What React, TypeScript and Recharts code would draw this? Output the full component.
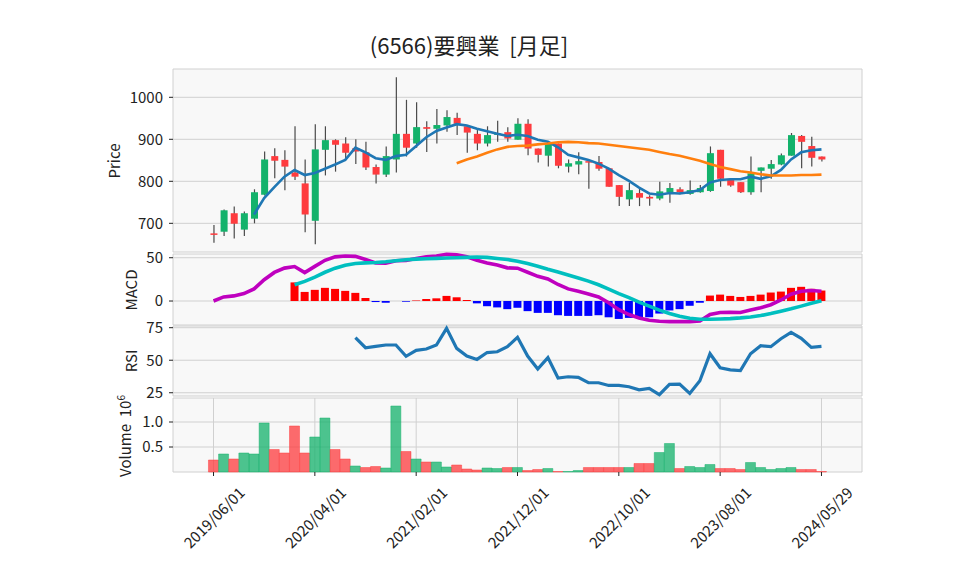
import { ComposedChart, Bar, Line, XAxis, YAxis, CartesianGrid, Cell } from "recharts";

const FONT = '"Noto Sans CJK JP", "Noto Sans", sans-serif';

// x positions are month indexes; ticks every 10 months
const tickIdx = [0, 10, 20, 30, 40, 50, 60];
const tickLabels = ["2019/06/01", "2020/04/01", "2021/02/01", "2021/12/01", "2022/10/01", "2023/08/01", "2024/05/29"];

const open = [676, 680, 724, 685, 711, 768, 860, 851, 821, 795, 706, 875, 898, 890, 879, 869, 834, 816, 852, 913,
  890, 929, 925, 933, 951, 931, 913, 890, 912, 917, 899, 937, 878, 861, 890, 835, 840, 848, 846, 831,
  791, 757, 772, 763, 759, 774, 781, 770, 774, 777, 875, 803, 798, 774, 825, 830, 840, 861, 908, 884, 859];
const high = [696, 733, 740, 728, 781, 871, 879, 874, 931, 852, 936, 931, 900, 905, 900, 894, 840, 883, 1048, 994,
  988, 943, 972, 969, 963, 931, 922, 931, 944, 929, 950, 948, 878, 896, 890, 852, 869, 848, 860, 831,
  791, 796, 782, 767, 799, 796, 786, 802, 791, 883, 875, 803, 798, 859, 833, 851, 866, 915, 910, 906, 859];
const low = [654, 670, 664, 670, 700, 766, 807, 779, 803, 679, 650, 814, 823, 854, 841, 827, 795, 810, 821, 859,
  880, 870, 890, 918, 910, 868, 874, 883, 894, 894, 899, 862, 845, 835, 831, 821, 817, 782, 825, 787,
  741, 741, 741, 742, 755, 749, 769, 768, 773, 775, 787, 787, 772, 768, 774, 806, 838, 861, 831, 835, 847];
const close = [674, 731, 699, 724, 774, 852, 849, 835, 811, 721, 876, 898, 887, 868, 871, 833, 816, 860, 913, 880,
  929, 925, 934, 953, 937, 916, 890, 910, 914, 902, 937, 878, 863, 889, 837, 843, 848, 845, 830, 787,
  763, 779, 761, 759, 776, 784, 774, 779, 784, 867, 806, 790, 774, 819, 833, 841, 862, 910, 894, 856, 852];

const ma5 = [null, null, null, null, 721, 760, 786, 811, 827, 815, 820, 830, 840, 851, 880, 869, 855, 851, 860, 863,
  884, 905, 920, 928, 936, 933, 925, 919, 913, 908, 911, 908, 899, 894, 881, 863, 857, 851, 842, 830,
  815, 801, 785, 771, 768, 772, 771, 774, 779, 797, 803, 805, 805, 811, 806, 812, 827, 852, 869, 874, 876];
const ma25 = [null, null, null, null, null, null, null, null, null, null, null, null, null, null, null, null, null, null, null, null,
  null, null, null, null, 843, 852, 859, 868, 876, 882, 884, 885, 888, 890, 893, 894, 893, 891, 890, 887,
  884, 881, 878, 875, 870, 865, 861, 855, 849, 841, 834, 829, 824, 821, 817, 814, 814, 814, 815, 815, 816];

const macd = [0, 4.7, 5.9, 8.6, 14, 24.6, 33, 38, 39.8, 32.8, 40, 47, 51, 52, 51.6, 48, 44, 43.8, 46.5, 46.9,
  49, 51, 52, 53.9, 53.5, 51, 47, 44, 41.5, 38.3, 37.9, 33.2, 28.5, 25.4, 19.1, 14, 11.3, 8.2, 4.7, -2,
  -10, -15.6, -19.5, -22.3, -23.4, -23.8, -23.8, -23.8, -23, -15.6, -13.3, -12.9, -13.3, -10.5, -7.8, -4.3, 1.2, 7.8, 11.3, 12.1, 11.3];
const signal = [null, null, null, null, null, null, null, null, 18.8, 22.7, 27.7, 33.2, 37.9, 41.4, 43.4, 44.1, 44.5, 45.3, 46.5, 47.7,
  48.4, 48.8, 49.2, 49.6, 50, 50.4, 50.8, 50.4, 49.2, 48, 46, 43.4, 40.2, 36.7, 33.6, 30, 26.6, 23, 18.8, 13.7,
  8.6, 3.9, -1.2, -5.9, -10.5, -14.5, -17.6, -19.9, -21.1, -21.1, -20.7, -20.3, -19.5, -18.4, -16.8, -14.5, -11.7, -9, -5.9, -2.7, 0.4];
const hist = [null, null, null, null, null, null, null, null, 21.5, 10.5, 12.9, 15.2, 14, 11.7, 9.4, 3.5, -1.2, -2, 0, -0.8,
  0.6, 2.3, 3.1, 5.9, 4.3, 1.2, -2.7, -6, -7.4, -9.4, -7.8, -11.7, -13.7, -13.7, -16.4, -17.2, -17.2, -17.2, -16.4, -18.8,
  -20.7, -19.5, -18.8, -18.8, -14.5, -10.9, -9.4, -5.5, -2, 6.3, 7.4, 5.9, 4.7, 5.9, 7.4, 9.8, 10.9, 15.2, 16.4, 14.1, 12.1];

const rsi = [null, null, null, null, null, null, null, null, null, null, null, null, null, null, 67.3, 59.6, 60.6, 61.7, 61.7, 53,
  57.6, 58.6, 61.7, 74.5, 59.1, 53.2, 50.6, 55.9, 56.5, 60.4, 67.6, 53.2, 43.2, 52, 36.3, 37.3, 36.8, 32.7, 32.7, 30.6,
  30.6, 29.6, 27.3, 28.3, 23.5, 31.4, 31.7, 24.5, 34.2, 55, 44.2, 42.6, 42.1, 55, 61.2, 60.4, 66.5, 71.4, 66.8, 59.9, 60.6];

// volume in millions, colour by change of close (G up / R down)
const volume = [0.24, 0.36, 0.26, 0.38, 0.36, 0.98, 0.45, 0.38, 0.92, 0.38, 0.7, 1.08, 0.45, 0.26, 0.12, 0.09, 0.11, 0.08, 1.32, 0.41,
  0.26, 0.2, 0.2, 0.1, 0.14, 0.06, 0.04, 0.08, 0.07, 0.09, 0.09, 0.03, 0.05, 0.07, 0.01, 0.01, 0.03, 0.09, 0.09, 0.09,
  0.09, 0.09, 0.17, 0.17, 0.39, 0.57, 0.07, 0.11, 0.09, 0.15, 0.07, 0.07, 0.05, 0.19, 0.09, 0.05, 0.07, 0.09, 0.05, 0.05, 0.01];
const volDir = "RGRGGGRRRRGGRRGRRGGRGRGGRRRGGRGRRGRGGRRRRGRRGGRGGGRRRGGGGGRRR";

const GREEN = "#13b26b";
const RED = "#fe3b3e";
const GRID = "#d0d0d0";
const BG = "#f8f8f8";
const TXT = "#222";
const PAD = 12; // room above/below each panel so edge tick labels are not clipped

const data = open.map((o, i) => ({
  x: i,
  range: [low[i], high[i]],
  open: o,
  high: high[i],
  low: low[i],
  close: close[i],
  ma5: ma5[i],
  ma25: ma25[i],
  macd: macd[i],
  signal: signal[i],
  hist: hist[i],
  rsi: rsi[i],
  volume: volume[i],
}));

const Candle = (props: any) => {
  const { x, y, width, height, payload } = props;
  const top = Math.min(y, y + height);
  const h = Math.abs(height);
  const { open: o, close: c, high: hi, low: lo } = payload;
  const py = (v: number) => top + ((hi - v) / (hi - lo || 1)) * h;
  const cx = x + width / 2;
  const bTop = py(Math.max(o, c));
  const bBot = py(Math.min(o, c));
  return (
    <g>
      <line x1={cx} x2={cx} y1={top} y2={top + h} stroke="#4a4a4a" strokeWidth={1.2} />
      <rect x={x} y={bTop} width={width} height={Math.max(bBot - bTop, 1.5)} fill={c >= o ? GREEN : RED} />
    </g>
  );
};

const XTick = (props: any) => {
  const { x, y, payload } = props;
  const label = tickLabels[tickIdx.indexOf(payload.value)];
  return (
    <text transform={`translate(${x},${y + 39}) rotate(-45)`} textAnchor="middle" dominantBaseline="central"
      fontSize={15} fill={TXT} fontFamily={FONT}>
      {label}
    </text>
  );
};

const margin = { top: PAD, right: 96, bottom: PAD, left: 113 };
const yTick = { fontSize: 15, fill: TXT, fontFamily: FONT };

const hiddenX = (
  <XAxis type="number" dataKey="x" domain={[-4, 64]} ticks={tickIdx} interval={0}
    tick={false} tickLine={false} axisLine={false} height={0} />
);

const panel = (top: number) => ({ position: "absolute" as const, left: 0, top: top - PAD });

export default function App() {
  return (
    <div style={{ position: "absolute", left: 0, top: 0, width: 958, height: 575, background: "#fff", fontFamily: FONT }}>
      <div style={panel(69)}>
        <ComposedChart width={958} height={183 + 2 * PAD} data={data} margin={margin}>
          <CartesianGrid stroke={GRID} fill={BG} />
          {hiddenX}
          <YAxis domain={[631.7, 1067.4]} ticks={[700, 800, 900, 1000]} width={60} axisLine={false}
            tickSize={4} tickMargin={6} tickLine={{ stroke: TXT }} tick={yTick} />
          <Bar dataKey="range" barSize={7} shape={<Candle />} isAnimationActive={false} />
          <Line dataKey="ma5" stroke="#1f77b4" strokeWidth={2.6} dot={false} isAnimationActive={false} />
          <Line dataKey="ma25" stroke="#ff7f0e" strokeWidth={2.6} dot={false} isAnimationActive={false} />
        </ComposedChart>
      </div>
      <div style={panel(254)}>
        <ComposedChart width={958} height={71 + 2 * PAD} data={data} margin={margin}>
          <CartesianGrid stroke={GRID} fill={BG} />
          {hiddenX}
          <YAxis domain={[-27.7, 54.3]} ticks={[0, 50]} width={60} axisLine={false}
            tickSize={4} tickMargin={6} tickLine={{ stroke: TXT }} tick={yTick} />
          <Bar dataKey="hist" barSize={8} isAnimationActive={false}>
            {data.map((d, i) => (
              <Cell key={i} fill={(d.hist ?? 0) >= 0 ? "#ff0000" : "#0000ff"} />
            ))}
          </Bar>
          <Line dataKey="macd" stroke="#bf00bf" strokeWidth={3.6} dot={false} isAnimationActive={false} />
          <Line dataKey="signal" stroke="#00bfbf" strokeWidth={3.6} dot={false} isAnimationActive={false} />
        </ComposedChart>
      </div>
      <div style={panel(326)}>
        <ComposedChart width={958} height={70 + 2 * PAD} data={data} margin={margin}>
          <CartesianGrid stroke={GRID} fill={BG} />
          {hiddenX}
          <YAxis domain={[22.5, 76.3]} ticks={[25, 50, 75]} width={60} axisLine={false}
            tickSize={4} tickMargin={6} tickLine={{ stroke: TXT }} tick={yTick} />
          <Line dataKey="rsi" stroke="#1f77b4" strokeWidth={3.2} dot={false} isAnimationActive={false} />
        </ComposedChart>
      </div>
      <div style={panel(398)}>
        <ComposedChart width={958} height={164 + PAD} data={data} margin={{ ...margin, bottom: 0 }}>
          <CartesianGrid stroke={GRID} fill={BG} />
          <XAxis type="number" dataKey="x" domain={[-4, 64]} ticks={tickIdx} interval={0}
            height={90} axisLine={false} tickSize={4} tickLine={{ stroke: TXT }} tick={<XTick />} />
          <YAxis domain={[0, 1.48]} ticks={[0.5, 1.0]} width={60} axisLine={false}
            tickSize={4} tickMargin={6} tickLine={{ stroke: TXT }} tick={yTick}
            tickFormatter={(v: number) => v.toFixed(1)} />
          <Bar dataKey="volume" barSize={10} isAnimationActive={false}>
            {data.map((d, i) => (
              <Cell key={i} fill={volDir[i] === "G" ? GREEN : RED} fillOpacity={0.75}
                stroke={volDir[i] === "G" ? GREEN : RED} strokeOpacity={0.6} strokeWidth={0.8} />
            ))}
          </Bar>
        </ComposedChart>
      </div>
      <svg width={958} height={575} style={{ position: "absolute", left: 0, top: 0, pointerEvents: "none" }}>
        <text x={469} y={54} textAnchor="middle" fontSize={22} fill={TXT} fontFamily={FONT} style={{ whiteSpace: "pre" }}>
          {"(6566)要興業\u00a0\u00a0[月足]"}
        </text>
        <text transform="translate(120,161) rotate(-90)" textAnchor="middle" fontSize={15} fill={TXT} fontFamily={FONT}>Price</text>
        <text transform="translate(137,290) rotate(-90)" textAnchor="middle" fontSize={15} fill={TXT} fontFamily={FONT}>MACD</text>
        <text transform="translate(137,361) rotate(-90)" textAnchor="middle" fontSize={15} fill={TXT} fontFamily={FONT}>RSI</text>
        <text transform="translate(131,436) rotate(-90)" textAnchor="middle" fontSize={15} fill={TXT} fontFamily={FONT}>
          {"Volume\u00a0\u00a010"}<tspan dy={-6} fontSize={10}>6</tspan>
        </text>
      </svg>
    </div>
  );
}
